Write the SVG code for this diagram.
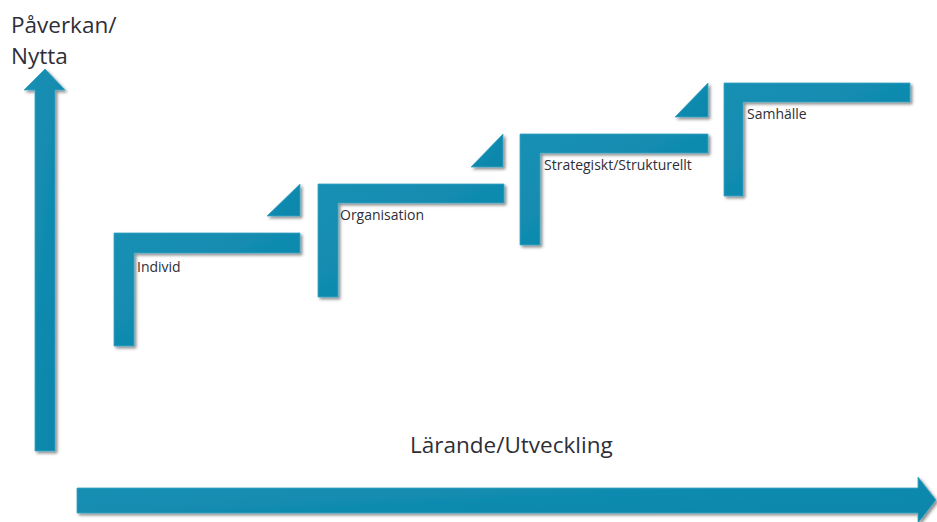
<svg xmlns="http://www.w3.org/2000/svg" width="937" height="522" viewBox="0 0 937 522">
<defs>
<linearGradient id="g" x1="0" y1="0" x2="1" y2="1">
<stop offset="0" stop-color="#1690b4"/>
<stop offset="1" stop-color="#0c85aa"/>
</linearGradient>
<filter id="sh" x="-10%" y="-10%" width="130%" height="130%">
<feGaussianBlur in="SourceAlpha" stdDeviation="1.5"/>
<feOffset dx="2" dy="2" result="b"/>
<feFlood flood-color="#000" flood-opacity="0.45"/>
<feComposite in2="b" operator="in"/>
<feMerge><feMergeNode/><feMergeNode in="SourceGraphic"/></feMerge>
</filter>
</defs>
<style>
.s{fill:url(#g);stroke:#3aa3c4;stroke-width:0.8;filter:url(#sh)}
.lbl{font-family:"Open Sans","Noto Sans",sans-serif;font-size:14px;fill:#2e2e38}
.ax{font-family:"Open Sans","Noto Sans",sans-serif;font-size:22.5px;fill:#2e2e38}
</style>
<rect width="937" height="522" fill="#fff"/>
<g id="axes">
<g id="y-axis"><polygon class="s" points="35,451 55,451 55,90 65,90 45,69 24,90 35,90"/></g>
<g id="x-axis"><polygon class="s" points="77,488 918,488 918,477 936,500 918,523 918,513 77,513"/></g>
</g>
<text class="ax" x="11" y="33">Påverkan/</text>
<text class="ax" x="11" y="64">Nytta</text>
<text class="ax" x="410" y="453">Lärande/Utveckling</text>
<g id="connectors">
<polygon class="s" points="267,216 300,216 300,184"/>
<polygon class="s" points="471,167 503,167 503,134"/>
<polygon class="s" points="675,117 708,117 708,83"/>
</g>
<g id="individ">
<polygon class="s" points="114,233 300,233 300,253 134,253 134,346 114,346"/>
<text class="lbl" x="137" y="272">Individ</text>
</g>
<g id="organisation">
<polygon class="s" points="318,184 504,184 504,203 338,203 338,297 318,297"/>
<text class="lbl" x="340" y="220">Organisation</text>
</g>
<g id="strategiskt">
<polygon class="s" points="520,134 708,134 708,153 540,153 540,245 520,245"/>
<text class="lbl" x="544" y="170">Strategiskt/Strukturellt</text>
</g>
<g id="samhalle">
<polygon class="s" points="724,83 910,83 910,102 743,102 743,196 724,196"/>
<text class="lbl" x="747" y="119">Samhälle</text>
</g>
</svg>
